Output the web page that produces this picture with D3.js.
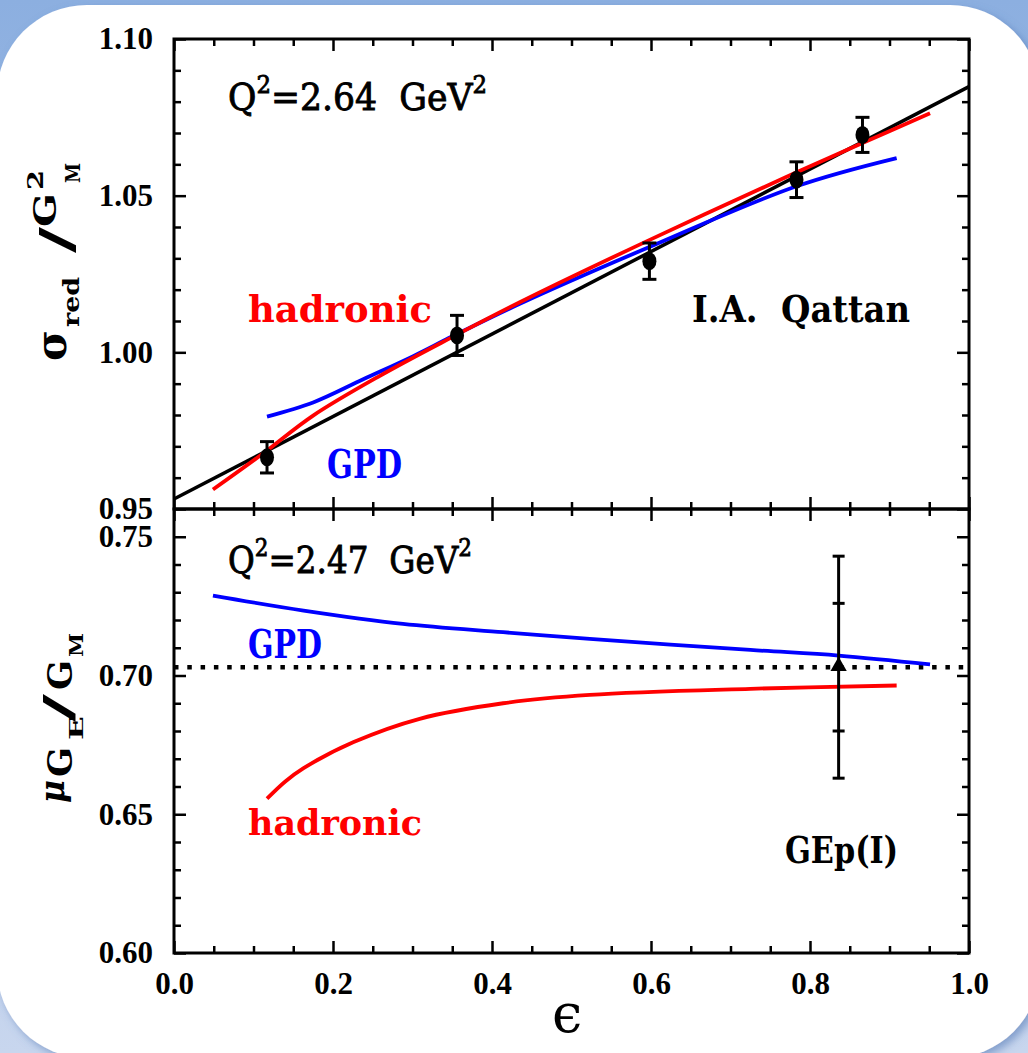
<!DOCTYPE html>
<html>
<head>
<meta charset="utf-8">
<script src="https://cdn.jsdelivr.net/npm/d3@7"></script>
<style>
  body { margin: 0; background: #fff; }
</style>
</head>
<body>
<div id="chart"></div>
<script>
// ---- data ----
// top panel: reduced cross section / G_M^2 vs epsilon
var epsPts = [0.117, 0.356, 0.598, 0.783, 0.866];
var sigPts = [0.9665, 1.0054, 1.0291, 1.0551, 1.0694];
var sigErr = [0.0050, 0.0064, 0.0058, 0.0057, 0.0056];

// linear fit (black)
var fitEps = [0.0, 1.0];
var fitVal = [0.9532, 1.0848];

// hadronic (red), top
var hadTopEps = [0.049, 0.112, 0.175, 0.259, 0.351, 0.435, 0.595, 0.779, 0.866, 0.951];
var hadTopVal = [0.9562, 0.9677, 0.9798, 0.9925, 1.0050, 1.0160, 1.0355, 1.0570, 1.0668, 1.0763];

// GPD (blue), top
var gpdTopEps = [0.117, 0.175, 0.238, 0.301, 0.351, 0.435, 0.595, 0.783, 0.909];
var gpdTopVal = [0.9795, 0.9840, 0.9914, 0.9988, 1.0052, 1.0155, 1.0333, 1.0530, 1.0620];

// bottom panel: mu G_E / G_M vs epsilon
var gpdBotEps = [0.049, 0.163, 0.288, 0.414, 0.523, 0.725, 0.836, 0.951];
var gpdBotVal = [0.7288, 0.7234, 0.7186, 0.7156, 0.7132, 0.7092, 0.7072, 0.7040];

var hadBotEps = [0.117, 0.140, 0.163, 0.226, 0.309, 0.414, 0.523, 0.725, 0.909];
var hadBotVal = [0.6556, 0.6618, 0.6666, 0.6760, 0.6844, 0.6900, 0.6930, 0.6952, 0.6964];

var ratioLevel = 0.703;          // dotted line
var gepEps = 0.836, gepVal = 0.703, gepStat = 0.023, gepTot = 0.040;

// tick labels
var xTickLabels = [0.0, 0.2, 0.4, 0.6, 0.8, 1.0];
var yTopLabels = [0.95, 1.00, 1.05, 1.10];
var yBotLabels = [0.60, 0.65, 0.70, 0.75];

// ---- layout ----
var W = 1028, H = 1053;
var x0 = 174, x1 = 969;
var topY0 = 39, midY = 509, botY1 = 953;

var svg = d3.select("#chart").append("svg")
    .attr("width", W)
    .attr("height", H);

var defs = svg.append("defs");
var grad = defs.append("linearGradient").attr("id", "bg")
    .attr("x1", 0).attr("y1", 0).attr("x2", 0).attr("y2", 1);
grad.append("stop").attr("offset", "0%").attr("stop-color", "#8cafe0");
grad.append("stop").attr("offset", "100%").attr("stop-color", "#c8d6ee");

var shadow = defs.append("filter").attr("id", "sh")
    .attr("x", "-5%").attr("y", "-5%").attr("width", "110%").attr("height", "110%");
shadow.append("feDropShadow")
    .attr("dx", 4).attr("dy", 4).attr("stdDeviation", 4)
    .attr("flood-color", "#4a6fb0").attr("flood-opacity", 0.55);

svg.append("rect").attr("width", W).attr("height", H).attr("fill", "url(#bg)");
svg.append("rect")
    .attr("x", -3).attr("y", 5)
    .attr("width", 1043).attr("height", 1053)
    .attr("rx", 90)
    .attr("fill", "#fff")
    .attr("filter", "url(#sh)");

var x = d3.scaleLinear().domain([0, 1]).range([x0, x1]);
var yTop = d3.scaleLinear().domain([0.95, 1.10]).range([midY, topY0]);
var yBot = d3.scaleLinear().domain([0.60, 0.76]).range([botY1, midY]);

function rnd(v) { return Math.round(v * 1000) / 1000; }
function minorOf(lo, hi, step, majors) {
    return d3.range(lo, hi + step / 2, step).map(rnd)
        .filter(function (v) { return majors.map(rnd).indexOf(v) < 0; });
}

var xMinor = minorOf(0, 1, 0.05, xTickLabels);
var yTopMinor = minorOf(0.95, 1.10, 0.01, yTopLabels);
var yBotMinor = minorOf(0.60, 0.76, 0.01, yBotLabels.concat([0.76]));

var tickFont = "Liberation Serif";

function drawAxis(axis, tx, ty) {
    var g = svg.append("g")
        .attr("transform", "translate(" + tx + "," + ty + ")")
        .call(axis);
    g.select(".domain").remove();
    g.selectAll(".tick line").attr("stroke", "#000").attr("stroke-width", 2.5);
    g.attr("font-family", tickFont).attr("font-weight", "bold").attr("font-size", 31);
    g.selectAll(".tick text").attr("fill", "#000");
    return g;
}

var noLab = function () { return ""; };

// top panel ticks
drawAxis(d3.axisTop(x).tickValues(xTickLabels).tickSize(-12).tickFormat(noLab), 0, topY0);
drawAxis(d3.axisTop(x).tickValues(xMinor).tickSize(-7).tickFormat(noLab), 0, topY0);
drawAxis(d3.axisBottom(x).tickValues(xTickLabels).tickSize(-12).tickFormat(noLab), 0, midY);
drawAxis(d3.axisBottom(x).tickValues(xMinor).tickSize(-7).tickFormat(noLab), 0, midY);
drawAxis(d3.axisLeft(yTop).tickValues(yTopLabels).tickSize(-12).tickPadding(21)
    .tickFormat(d3.format(".2f")), x0, 0);
drawAxis(d3.axisLeft(yTop).tickValues(yTopMinor).tickSize(-7).tickFormat(noLab), x0, 0);
drawAxis(d3.axisRight(yTop).tickValues(yTopLabels).tickSize(-12).tickFormat(noLab), x1, 0);
drawAxis(d3.axisRight(yTop).tickValues(yTopMinor).tickSize(-7).tickFormat(noLab), x1, 0);

// bottom panel ticks
drawAxis(d3.axisTop(x).tickValues(xTickLabels).tickSize(-12).tickFormat(noLab), 0, midY);
drawAxis(d3.axisTop(x).tickValues(xMinor).tickSize(-7).tickFormat(noLab), 0, midY);
drawAxis(d3.axisBottom(x).tickValues(xTickLabels).tickSize(-12).tickPadding(19)
    .tickFormat(d3.format(".1f")), 0, botY1);
drawAxis(d3.axisBottom(x).tickValues(xMinor).tickSize(-7).tickFormat(noLab), 0, botY1);
drawAxis(d3.axisLeft(yBot).tickValues(yBotLabels).tickSize(-12).tickPadding(21)
    .tickFormat(d3.format(".2f")), x0, 0);
drawAxis(d3.axisLeft(yBot).tickValues(yBotMinor).tickSize(-7).tickFormat(noLab), x0, 0);
drawAxis(d3.axisRight(yBot).tickValues(yBotLabels).tickSize(-12).tickFormat(noLab), x1, 0);
drawAxis(d3.axisRight(yBot).tickValues(yBotMinor).tickSize(-7).tickFormat(noLab), x1, 0);

// frames
svg.append("rect").attr("x", x0).attr("y", topY0)
    .attr("width", x1 - x0).attr("height", midY - topY0)
    .attr("fill", "none").attr("stroke", "#000").attr("stroke-width", 3);
svg.append("rect").attr("x", x0).attr("y", midY)
    .attr("width", x1 - x0).attr("height", botY1 - midY)
    .attr("fill", "none").attr("stroke", "#000").attr("stroke-width", 3);

// ---- curves ----
var lineTop = d3.line()
    .x(function (d) { return x(d[0]); })
    .y(function (d) { return yTop(d[1]); })
    .curve(d3.curveCatmullRom.alpha(0.5));
var lineBot = d3.line()
    .x(function (d) { return x(d[0]); })
    .y(function (d) { return yBot(d[1]); })
    .curve(d3.curveCatmullRom.alpha(0.5));

svg.append("path").datum(d3.zip(fitEps, fitVal))
    .attr("d", lineTop).attr("fill", "none")
    .attr("stroke", "#000").attr("stroke-width", 3.5);
svg.append("path").datum(d3.zip(gpdTopEps, gpdTopVal))
    .attr("d", lineTop).attr("fill", "none")
    .attr("stroke", "#0000ff").attr("stroke-width", 3.8);
svg.append("path").datum(d3.zip(hadTopEps, hadTopVal))
    .attr("d", lineTop).attr("fill", "none")
    .attr("stroke", "#ff0000").attr("stroke-width", 3.8);

// data points with error bars
var pts = d3.zip(epsPts, sigPts, sigErr);
var pg = svg.append("g").selectAll("g").data(pts).enter().append("g");
pg.append("line")
    .attr("x1", function (d) { return x(d[0]); })
    .attr("x2", function (d) { return x(d[0]); })
    .attr("y1", function (d) { return yTop(d[1] + d[2]); })
    .attr("y2", function (d) { return yTop(d[1] - d[2]); })
    .attr("stroke", "#000").attr("stroke-width", 3);
[1, -1].forEach(function (s) {
    pg.append("line")
        .attr("x1", function (d) { return x(d[0]) - 7; })
        .attr("x2", function (d) { return x(d[0]) + 7; })
        .attr("y1", function (d) { return yTop(d[1] + s * d[2]); })
        .attr("y2", function (d) { return yTop(d[1] + s * d[2]); })
        .attr("stroke", "#000").attr("stroke-width", 3);
});
pg.append("ellipse")
    .attr("cx", function (d) { return x(d[0]); })
    .attr("cy", function (d) { return yTop(d[1]); })
    .attr("rx", 7).attr("ry", 9)
    .attr("fill", "#000");

// ---- bottom panel ----
svg.append("line")
    .attr("x1", x(0)).attr("x2", x(1))
    .attr("y1", yBot(ratioLevel)).attr("y2", yBot(ratioLevel))
    .attr("stroke", "#000").attr("stroke-width", 4.5)
    .attr("stroke-dasharray", "4.5 8.8");

svg.append("path").datum(d3.zip(gpdBotEps, gpdBotVal))
    .attr("d", lineBot).attr("fill", "none")
    .attr("stroke", "#0000ff").attr("stroke-width", 3.8);
svg.append("path").datum(d3.zip(hadBotEps, hadBotVal))
    .attr("d", lineBot).attr("fill", "none")
    .attr("stroke", "#ff0000").attr("stroke-width", 3.8);

var gx = x(gepEps);
svg.append("line")
    .attr("x1", gx).attr("x2", gx)
    .attr("y1", yBot(gepVal + gepTot)).attr("y2", yBot(gepVal - gepTot))
    .attr("stroke", "#000").attr("stroke-width", 3);
[gepTot, -gepTot, gepStat, -gepStat].forEach(function (e) {
    svg.append("line")
        .attr("x1", gx - 6).attr("x2", gx + 6)
        .attr("y1", yBot(gepVal + e)).attr("y2", yBot(gepVal + e))
        .attr("stroke", "#000").attr("stroke-width", 3);
});
svg.append("path")
    .attr("d", d3.symbol().type(d3.symbolTriangle).size(115)())
    .attr("transform", "translate(" + gx + "," + (yBot(gepVal) - 1) + ")")
    .attr("fill", "#000");

// ---- annotations ----
function label(str, px, py, size, len, color, bold) {
    return svg.append("text")
        .attr("x", px).attr("y", py)
        .attr("font-family", "DejaVu Serif")
        .attr("font-weight", bold ? "bold" : "normal")
        .attr("font-size", size)
        .attr("fill", color)
        .attr("textLength", len)
        .attr("lengthAdjust", "spacingAndGlyphs")
        .text(str);
}

function qLabel(val, px, py, len) {
    var t = svg.append("text")
        .attr("x", px).attr("y", py)
        .attr("font-family", "DejaVu Serif")
        .attr("font-size", 38)
        .attr("fill", "#000")
        .attr("stroke", "#000").attr("stroke-width", 0.9)
        .attr("textLength", len)
        .attr("lengthAdjust", "spacingAndGlyphs");
    t.append("tspan").text("Q");
    t.append("tspan").attr("font-size", 25).attr("dy", -17).text("2");
    t.append("tspan").attr("dy", 17).text("=" + val + "\u00a0\u00a0GeV");
    t.append("tspan").attr("font-size", 25).attr("dy", -17).text("2");
}

qLabel("2.64", 228, 110, 259);
qLabel("2.47", 228, 573, 244);

label("hadronic", 248, 322, 37, 184, "#ff0000", true);
label("I.A.\u00a0\u00a0Qattan", 692, 322, 37, 218, "#000", true);
label("GPD", 327, 478, 40, 75, "#0000ff", true);
label("GPD", 248, 658, 40, 74, "#0000ff", true);
label("hadronic", 248, 835, 36, 174, "#ff0000", true);
label("GEp(I)", 785, 863, 38, 113, "#000", true);

svg.append("text")
    .attr("x", 567).attr("y", 1032)
    .attr("text-anchor", "middle")
    .attr("font-family", "DejaVu Serif")
    .attr("font-size", 54)
    .text("\u03f5");

// vertical axis titles, piece by piece
function vtext(str, size, bx, by, len, italic) {
    svg.append("text")
        .attr("transform", "translate(" + bx + "," + by + ") rotate(-90)")
        .attr("font-family", "DejaVu Serif")
        .attr("font-weight", "bold")
        .attr("font-style", italic ? "italic" : "normal")
        .attr("font-size", size)
        .attr("textLength", len)
        .attr("lengthAdjust", "spacingAndGlyphs")
        .text(str);
}

vtext("\u03c3", 42, 66, 361, 31);
vtext("red", 23, 79, 327, 50);
vtext("/", 44, 72, 253, 26);
vtext("G", 32, 56, 227, 34);
vtext("2", 22, 43, 190, 20);
vtext("M", 20, 80, 183, 20);

vtext("\u03bc", 36, 64, 803, 23, true);
vtext("G", 34, 72, 777, 30);
vtext("E", 18, 83, 740, 24);
vtext("/", 40, 72, 722, 28);
vtext("G", 34, 72, 690, 30);
vtext("M", 18, 83, 657, 24);
</script>
</body>
</html>
